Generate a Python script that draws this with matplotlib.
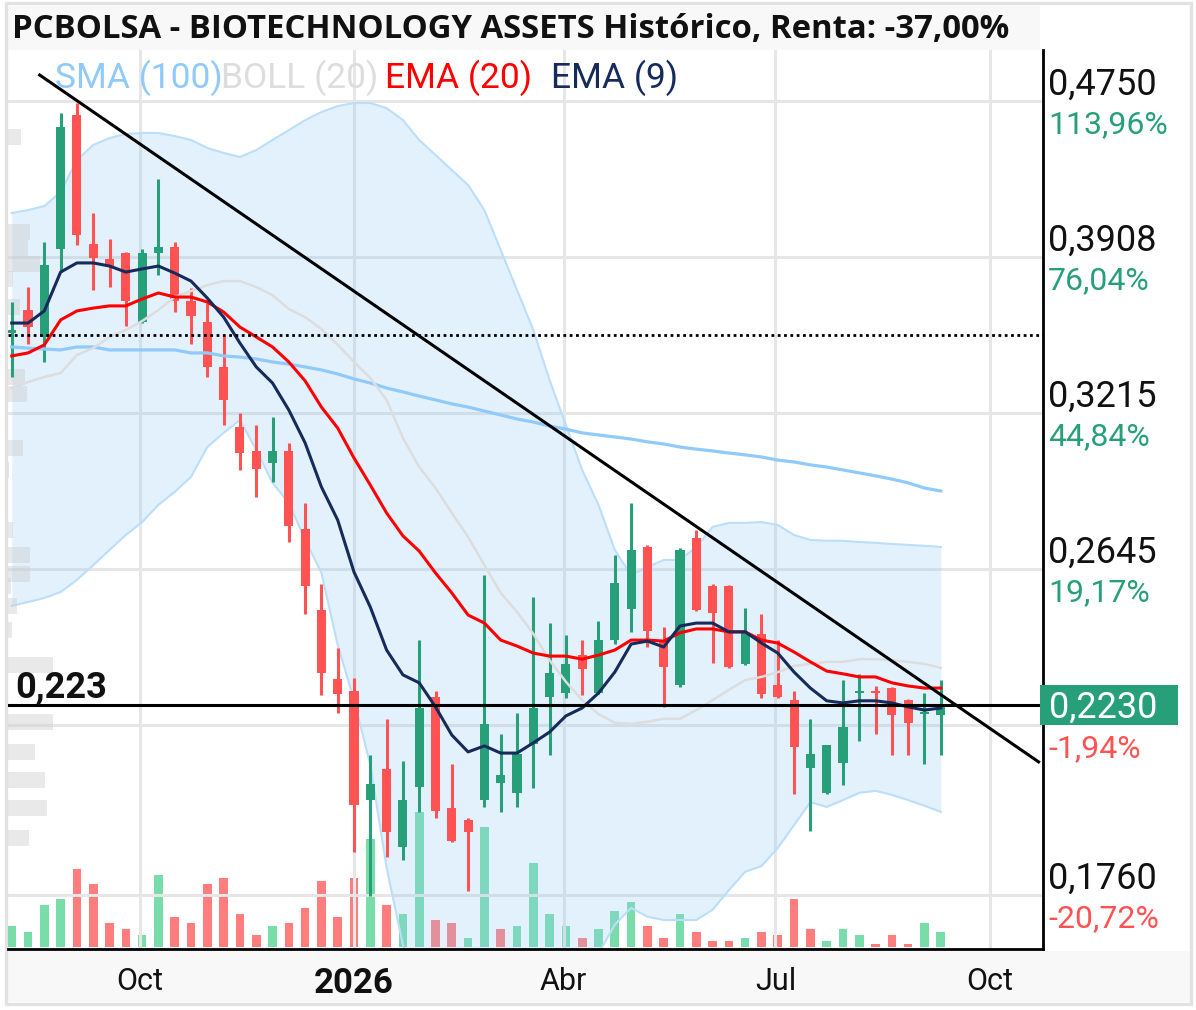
import numpy as np
import pandas as pd
import matplotlib
matplotlib.use("Agg")
import matplotlib.pyplot as plt
import matplotlib.dates as mdates
import matplotlib.transforms as mtransforms
from matplotlib.patches import Rectangle
from matplotlib.ticker import FixedLocator, NullLocator

plt.rcParams['font.family'] = ['Roboto', 'DejaVu Sans']

# ---------------- data ----------------
title = "PCBOLSA - BIOTECHNOLOGY ASSETS Histórico, Renta: -37,00%"
first_week = "2025-08-07"

open_ = [0.3554, 0.3657, 0.3536, 0.3947, 0.4668, 0.3972, 0.3898, 0.3928, 0.3603, 0.3928,
         0.3957, 0.3699, 0.3603, 0.3406, 0.3159, 0.3066, 0.3020, 0.3066, 0.2781, 0.2513,
         0.2305, 0.2271, 0.1981, 0.2060, 0.1868, 0.2014, 0.2254, 0.1962, 0.1932, 0.1981,
         0.2024, 0.1999, 0.2125, 0.2254, 0.2265, 0.2375, 0.2265, 0.2420, 0.2516, 0.2719,
         0.2420, 0.2288, 0.2750, 0.2590, 0.2590, 0.2349, 0.2439, 0.2288, 0.2245, 0.2062,
         0.1999, 0.2075, 0.2265, 0.2271, 0.2279, 0.2245, 0.2206, 0.2204]
high = [0.3694, 0.3764, 0.3982, 0.4679, 0.4738, 0.4129, 0.3997, 0.3930, 0.3947, 0.4308,
        0.3982, 0.3759, 0.3689, 0.3540, 0.3215, 0.3167, 0.3199, 0.3097, 0.2873, 0.2596,
        0.2396, 0.2308, 0.2096, 0.2193, 0.2080, 0.2420, 0.2271, 0.2073, 0.1937, 0.2625,
        0.2152, 0.2209, 0.2554, 0.2472, 0.2436, 0.2420, 0.2479, 0.2692, 0.2873, 0.2726,
        0.2460, 0.2716, 0.2777, 0.2596, 0.2592, 0.2519, 0.2500, 0.2420, 0.2271, 0.2193,
        0.2122, 0.2302, 0.2320, 0.2285, 0.2281, 0.2247, 0.2265, 0.2302]
low = [0.3363, 0.3505, 0.3427, 0.3835, 0.3967, 0.3750, 0.3764, 0.3585, 0.3598, 0.3821,
       0.3648, 0.3505, 0.3363, 0.3167, 0.2994, 0.2894, 0.2949, 0.2736, 0.2500, 0.2259,
       0.2209, 0.1857, 0.1757, 0.1845, 0.1838, 0.1952, 0.1937, 0.1880, 0.1768, 0.1964,
       0.1952, 0.1964, 0.2011, 0.2096, 0.2251, 0.2259, 0.2263, 0.2408, 0.2445, 0.2399,
       0.2226, 0.2282, 0.2510, 0.2352, 0.2337, 0.2347, 0.2251, 0.2251, 0.1996, 0.1906,
       0.1997, 0.2019, 0.2133, 0.2152, 0.2096, 0.2096, 0.2073, 0.2096]
close = [0.3567, 0.3580, 0.3869, 0.4598, 0.4017, 0.3903, 0.3859, 0.3699, 0.3928, 0.3957,
         0.3699, 0.3630, 0.3406, 0.3268, 0.3058, 0.2998, 0.3066, 0.2791, 0.2590, 0.2323,
         0.2262, 0.1969, 0.2021, 0.1904, 0.1981, 0.2223, 0.1954, 0.1882, 0.1904, 0.2179,
         0.2044, 0.2099, 0.2223, 0.2323, 0.2349, 0.2334, 0.2420, 0.2599, 0.2709, 0.2448,
         0.2340, 0.2709, 0.2513, 0.2504, 0.2340, 0.2442, 0.2262, 0.2254, 0.2117, 0.2099,
         0.2122, 0.2171, 0.2271, 0.2265, 0.2204, 0.2182, 0.2212, 0.2230]

volume = [21, 15, 42, 48, 78, 63, 24, 18, 12, 72,
          30, 24, 63, 69, 33, 12, 21, 24, 39, 66,
          30, 69, 108, 42, 33, 135, 27, 24, 9, 120,
          18, 21, 84, 33, 21, 9, 18, 36, 45, 21,
          9, 33, 15, 6, 6, 9, 15, 12, 48, 18,
          6, 18, 12, 3, 12, 3, 24, 15]
volume_up = [1, 1, 1, 1, 0, 0, 0, 0, 1, 1,
             0, 0, 0, 0, 0, 0, 1, 0, 0, 0,
             0, 0, 1, 0, 1, 1, 0, 0, 1, 1,
             0, 1, 1, 1, 1, 0, 1, 1, 1, 0,
             0, 1, 0, 0, 0, 1, 0, 0, 0, 0,
             1, 1, 1, 0, 0, 0, 1, 1]

sma100 = [0.3492, 0.3487, 0.3483, 0.3479, 0.3492, 0.3492, 0.3479, 0.3479, 0.3479, 0.3479,
          0.3479, 0.3466, 0.3466, 0.3453, 0.3448, 0.3440, 0.3427, 0.3418, 0.3406, 0.3393,
          0.3376, 0.3355, 0.3338, 0.3317, 0.3301, 0.3284, 0.3268, 0.3252, 0.3239, 0.3223,
          0.3207, 0.3191, 0.3179, 0.3163, 0.3151, 0.3136, 0.3128, 0.3120, 0.3112, 0.3101,
          0.3093, 0.3081, 0.3073, 0.3066, 0.3058, 0.3051, 0.3043, 0.3031, 0.3024, 0.3013,
          0.3005, 0.2994, 0.2983, 0.2972, 0.2960, 0.2946, 0.2927, 0.2916]
boll_mid = [0.3317, 0.3342, 0.3363, 0.3380, 0.3457, 0.3487, 0.3536, 0.3567, 0.3607, 0.3657,
            0.3717, 0.3745, 0.3773, 0.3792, 0.3792, 0.3764, 0.3726, 0.3662, 0.3625, 0.3571,
            0.3501, 0.3427, 0.3359, 0.3268, 0.3116, 0.3005, 0.2927, 0.2837, 0.2753, 0.2658,
            0.2567, 0.2507, 0.2439, 0.2360, 0.2297, 0.2245, 0.2206, 0.2182, 0.2179, 0.2185,
            0.2193, 0.2193, 0.2217, 0.2245, 0.2274, 0.2302, 0.2311, 0.2325, 0.2343, 0.2349,
            0.2355, 0.2355, 0.2363, 0.2363, 0.2360, 0.2355, 0.2349, 0.2337]
boll_up = [0.4129, 0.4144, 0.4165, 0.4239, 0.4412, 0.4496, 0.4535, 0.4558, 0.4564, 0.4564,
           0.4546, 0.4524, 0.4479, 0.4451, 0.4429, 0.4467, 0.4524, 0.4580, 0.4638, 0.4685,
           0.4720, 0.4738, 0.4738, 0.4708, 0.4638, 0.4524, 0.4440, 0.4357, 0.4276, 0.4144,
           0.3942, 0.3750, 0.3567, 0.3350, 0.3167, 0.2994, 0.2866, 0.2709, 0.2625, 0.2652,
           0.2675, 0.2675, 0.2719, 0.2788, 0.2802, 0.2802, 0.2805, 0.2795, 0.2760, 0.2743,
           0.2740, 0.2740, 0.2736, 0.2733, 0.2729, 0.2726, 0.2723, 0.2719]
boll_low = [0.2526, 0.2538, 0.2551, 0.2570, 0.2609, 0.2658, 0.2709, 0.2760, 0.2805, 0.2866,
            0.2913, 0.2968, 0.3081, 0.3136, 0.3187, 0.3070, 0.2946, 0.2873, 0.2743, 0.2632,
            0.2405, 0.2245, 0.2070, 0.1820, 0.1653, 0.1543, 0.1468, 0.1413, 0.1378, 0.1361,
            0.1361, 0.1378, 0.1413, 0.1468, 0.1523, 0.1572, 0.1635, 0.1695, 0.1731, 0.1712,
            0.1705, 0.1705, 0.1705, 0.1727, 0.1770, 0.1811, 0.1824, 0.1866, 0.1920, 0.1976,
            0.1964, 0.1981, 0.1999, 0.2004, 0.1994, 0.1981, 0.1967, 0.1952]
ema20 = [0.3453, 0.3466, 0.3501, 0.3612, 0.3653, 0.3666, 0.3676, 0.3676, 0.3708, 0.3736,
         0.3717, 0.3717, 0.3694, 0.3648, 0.3580, 0.3536, 0.3492, 0.3427, 0.3347, 0.3239,
         0.3155, 0.3039, 0.2938, 0.2837, 0.2757, 0.2705, 0.2632, 0.2567, 0.2497, 0.2472,
         0.2420, 0.2402, 0.2381, 0.2372, 0.2372, 0.2363, 0.2375, 0.2390, 0.2420, 0.2420,
         0.2417, 0.2442, 0.2454, 0.2454, 0.2445, 0.2445, 0.2420, 0.2411, 0.2384, 0.2355,
         0.2328, 0.2320, 0.2311, 0.2311, 0.2294, 0.2285, 0.2279, 0.2279]
ema9 = [0.3598, 0.3598, 0.3653, 0.3835, 0.3879, 0.3879, 0.3864, 0.3835, 0.3850, 0.3864,
        0.3830, 0.3792, 0.3712, 0.3625, 0.3509, 0.3406, 0.3338, 0.3227, 0.3097, 0.2931,
        0.2812, 0.2635, 0.2522, 0.2390, 0.2317, 0.2294, 0.2226, 0.2149, 0.2104, 0.2120,
        0.2101, 0.2101, 0.2128, 0.2157, 0.2201, 0.2223, 0.2265, 0.2325, 0.2408, 0.2417,
        0.2399, 0.2463, 0.2472, 0.2472, 0.2445, 0.2445, 0.2411, 0.2381, 0.2325, 0.2279,
        0.2243, 0.2237, 0.2243, 0.2243, 0.2237, 0.2226, 0.2217, 0.2223]

grid_levels = [0.4750, 0.3908, 0.3215, 0.2645, 0.2176, 0.1760]
grid_labels = ["0,4750", "0,3908", "0,3215", "0,2645", "", "0,1760"]
pct_labels = ["113,96%", "76,04%", "44,84%", "19,17%", "-1,94%", "-20,72%"]

last_price = 0.2230
last_label = "0,2230"
support_level = 0.223
support_label = "0,223"
dotted_level = 0.3545
trend_dates = ["2025-08-19", "2026-10-22"]
trend_prices = [0.4907, 0.2078]

xtick_dates = ["2025-10-01", "2026-01-01", "2026-04-01", "2026-07-01", "2026-10-01"]
xtick_labels = ["Oct", "2026", "Abr", "Jul", "Oct"]

profile_prices = [0.4541, 0.4032, 0.3952, 0.3874, 0.3802, 0.3671, 0.3363, 0.3293, 0.3077,
                  0.2994, 0.2777, 0.2692, 0.2629, 0.2590, 0.2526, 0.2451, 0.2346, 0.2185,
                  0.2104, 0.2032, 0.1962, 0.1889]
profile_volume = [13, 22, 20, 32, 5, 12, 17, 19, 15, 1, 5, 22, 22, 3, 9, 4, 45, 45, 27, 37, 39, 21]

legend_items = [("SMA (100)", "#90CAF9"), ("BOLL (20)", "#DDDDDD"),
                ("EMA (20)", "#FF0000"), ("EMA (9)", "#172A5C")]

# ---------------- style ----------------
GREEN = "#27A079"
RED = "#FF5252"
VGREEN = "#66D9A0"
VRED = "#FF6B6B"
W, H = 1196, 1010

fig = plt.figure(figsize=(W / 100, H / 100), dpi=100)
fig.patch.set_facecolor("white")

def fx(px):
    return px / W

def fy(py):
    return 1 - py / H

# frame and bands
fig.add_artist(Rectangle((fx(8), fy(50)), fx(1040) - fx(8), fy(6) - fy(50),
                         transform=fig.transFigure, facecolor="#F8F8F8", edgecolor="none", zorder=-5))
fig.add_artist(Rectangle((fx(8), fy(1002)), fx(1190) - fx(8), fy(951) - fy(1002),
                         transform=fig.transFigure, facecolor="#F8F8F8", edgecolor="none", zorder=-5))
fig.add_artist(Rectangle((fx(5.5), fy(1004)), fx(1191) - fx(5.5), fy(2.5) - fy(1004),
                         transform=fig.transFigure, fill=False, edgecolor="#E2E2E2", lw=2.4, zorder=-4))

ax = fig.add_axes([fx(8), fy(949), fx(1043) - fx(8), fy(50) - fy(949)])
axv = ax.twinx()
ax.set_zorder(axv.get_zorder() + 1)
ax.patch.set_visible(False)

xd = mdates.date2num(pd.date_range(first_week, periods=len(close), freq="7D"))
o, h, l, c = (np.array(a) for a in (open_, high, low, close))
up = c >= o
ccol = np.where(up, GREEN, RED)

# volume
vcol = [VGREEN if u else VRED for u in volume_up]
axv.bar(xd, volume, width=3.7, color=vcol, alpha=0.88, linewidth=0)
axv.set_ylim(-2, 897)
axv.axis("off")

# bollinger band
ax.fill_between(xd, boll_low, boll_up, color="#90CAF9", alpha=0.25, linewidth=0, zorder=1)
ax.plot(xd, boll_up, color="#BBDEFB", lw=1.5, zorder=1.2)
ax.plot(xd, boll_low, color="#BBDEFB", lw=1.5, zorder=1.2)

# volume profile (left)
blend = mtransforms.blended_transform_factory(ax.transAxes, ax.transData)
pv = np.array(profile_volume, dtype=float)
pw = pv / pv.max() * 0.0435
for p, w in zip(profile_prices, pw):
    ax.add_patch(Rectangle((0, p * 0.99), w, p * 0.0198, transform=blend,
                           facecolor="#CFCFCF", alpha=0.45, edgecolor="none", zorder=1.5))

# candles
ax.vlines(xd, l, h, colors=ccol, lw=2.2, zorder=3)
ax.bar(xd, np.abs(c - o), bottom=np.minimum(o, c), width=3.9, color=ccol, linewidth=0, zorder=3)

# indicator lines
ax.plot(xd, sma100, color="#90CAF9", lw=2.3, zorder=4)
ax.plot(xd, boll_mid, color="#DDDDDD", lw=1.8, zorder=4)
ax.plot(xd, ema20, color="#FF0000", lw=2.2, zorder=4.2)
ax.plot(xd, ema9, color="#172A5C", lw=2.2, zorder=4.3)

# drawings
td = mdates.date2num(pd.to_datetime(trend_dates))
ax.plot(td, trend_prices, color="black", lw=2.2, zorder=5, clip_on=False)
ax.axhline(support_level, color="black", lw=2.2, zorder=5)
ax.axhline(dotted_level, color="black", lw=2.0, linestyle=(0, (1, 1.27)), zorder=5)

# axes setup
ax.set_yscale("log")
ax.set_ylim(0.16443, 0.5063)
ax.set_xlim(xd[0] - 1.6, xd[0] - 1.6 + 444.5)
ax.yaxis.set_major_locator(FixedLocator(grid_levels))
ax.yaxis.set_minor_locator(NullLocator())
ax.set_yticklabels([])
ax.tick_params(axis="y", length=0, which="both")
ax.set_xticks(mdates.date2num(pd.to_datetime(xtick_dates)))
ax.set_xticklabels(xtick_labels)
ax.tick_params(axis="x", length=0, pad=13)
for lab in ax.get_xticklabels():
    if lab.get_text() == "2026":
        lab.set_fontweight("bold")
        lab.set_fontsize(25)
    else:
        lab.set_fontsize(22)
    lab.set_color("#111111")
ax.set_axisbelow(True)
ax.grid(True, color="#E6E6E6", lw=2.2)
for s in ("left", "top"):
    ax.spines[s].set_visible(False)
for s in ("right", "bottom"):
    ax.spines[s].set_color("black")
    ax.spines[s].set_linewidth(2.0)

# right axis labels
val_tr = mtransforms.offset_copy(blend, fig=fig, x=5, y=6, units="dots")
pct_tr = mtransforms.offset_copy(blend, fig=fig, x=5, y=-32, units="dots")
for lev, vl, pl in zip(grid_levels, grid_labels, pct_labels):
    if vl:
        ax.text(1.0, lev, vl, transform=val_tr, fontsize=26, color="#111111",
                ha="left", va="baseline", clip_on=False)
    ax.text(1.0, lev, pl, transform=pct_tr, fontsize=23,
            color=RED if pl.startswith("-") else GREEN,
            ha="left", va="baseline", clip_on=False)

# support label
sup_tr = mtransforms.offset_copy(blend, fig=fig, x=7, y=8, units="dots")
ax.text(0.0, support_level, support_label, transform=sup_tr, fontsize=26, fontweight="bold",
        color="#111111", ha="left", va="baseline", zorder=6)

# current price box
px, py = blend.transform((1.0, last_price))
fig.add_artist(Rectangle((px - 3, py - 20), 138, 40, transform=mtransforms.IdentityTransform(),
                         facecolor=GREEN, edgecolor="none", zorder=10))
fig.text(px + 6, py - 12, last_label, transform=mtransforms.IdentityTransform(),
         color="white", fontsize=26, ha="left", va="baseline", zorder=11)

# title
t = fig.text(fx(12), fy(29), title, fontsize=22, fontweight="bold",
             family=["Open Sans", "DejaVu Sans"], color="#111111", ha="left", va="center")
fig.canvas.draw()
bw = t.get_window_extent().width
t.set_fontsize(22 * 996 / bw)

# legend
leg_x = [55, 221, 385, 551]
for (txt, col), lx in zip(legend_items, leg_x):
    fig.text(fx(lx), fy(88), txt, fontsize=25.5, color=col, ha="left", va="baseline")

fig.savefig("out.png", dpi=100)
